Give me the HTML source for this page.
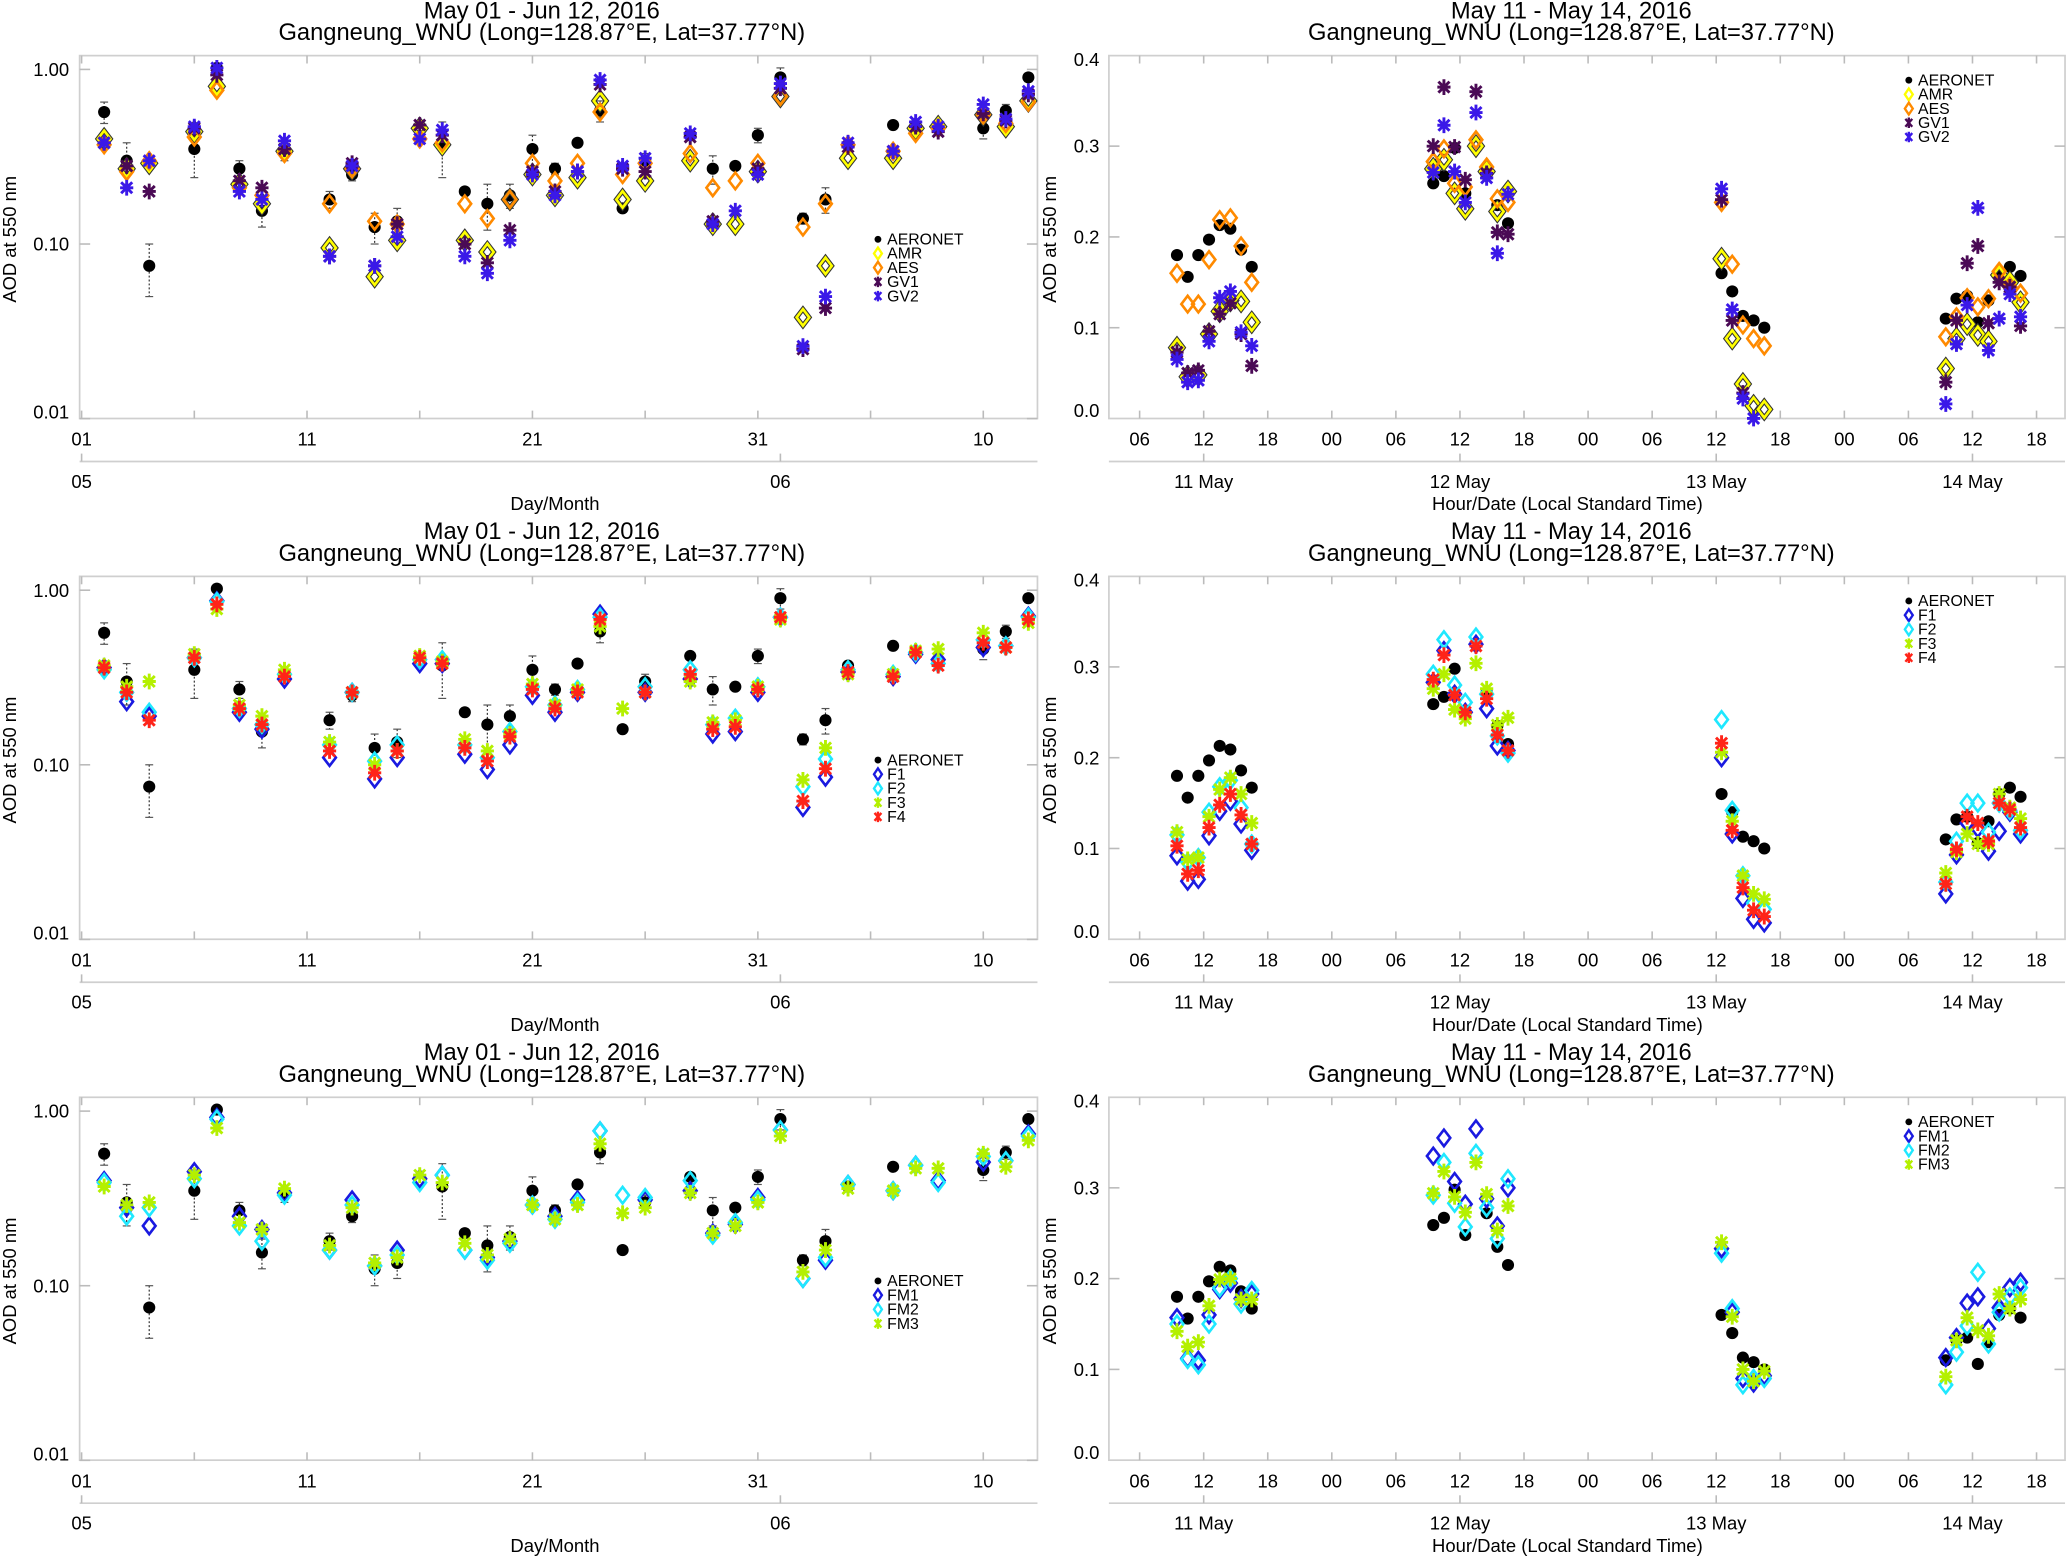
<!DOCTYPE html>
<html>
<head>
<meta charset="utf-8">
<style>
html,body{margin:0;padding:0;background:#fff;}
svg{display:block;}
text{font-family:"Liberation Sans Narrow","Liberation Sans",sans-serif;fill:#000;}
</style>
</head>
<body>
<svg id="fig" width="2067" height="1558" viewBox="0 0 1568 1185" preserveAspectRatio="none" xmlns="http://www.w3.org/2000/svg"></svg>
<script>
// ---------- data: daily panels (May 01 - Jun 12) ----------
const days = [2,3,4,6,7,8,9,10,12,13,14,15,16,17,18,19,20,21,22,23,24,25,26,28,29,30,31,32,33,34,35,37,38,39,41,42,43];
const aeroDaily = [0.57,0.30,0.075,0.35,1.02,0.27,0.155,0.33,0.18,0.25,0.125,0.135,null,0.37,0.20,0.17,0.19,0.35,0.27,0.38,0.58,0.16,0.30,0.42,0.27,0.28,0.42,0.90,0.14,0.18,0.37,0.48,null,null,0.46,0.58,0.90];
const aeroDailyErr = [0.08,0.08,0.025,0.11,0.05,0.03,0.03,0.03,0.02,0.02,0.025,0.025,0,0.13,0,0.05,0.03,0.07,0.02,0,0.08,0,0.03,0,0.05,0.01,0.04,0.12,0.01,0.03,0.01,0,0,0,0.06,0.05,0.05];
const amrDaily = [0.40,0.27,0.29,0.44,0.80,0.22,0.17,0.34,0.095,0.27,0.065,0.105,0.46,0.37,0.105,0.09,0.18,0.25,0.19,0.24,0.66,0.18,0.23,0.30,0.13,0.13,0.26,0.70,0.038,0.075,0.31,0.31,0.46,0.47,0.55,0.47,0.66];
const aesDaily = [0.37,0.26,0.30,0.41,0.76,0.21,0.19,0.33,0.17,0.27,0.135,0.13,0.40,0.38,0.17,0.14,0.18,0.29,0.23,0.29,0.57,0.25,0.29,0.33,0.21,0.23,0.29,0.70,0.125,0.17,0.37,0.34,0.43,0.46,0.55,0.49,0.65];
const gv1Daily = [0.38,0.28,0.20,0.46,0.93,0.23,0.21,0.35,0.085,0.29,0.075,0.13,0.48,0.42,0.10,0.078,0.12,0.26,0.20,0.26,0.82,0.27,0.26,0.41,0.135,null,0.27,0.78,0.025,0.043,0.36,0.34,0.47,0.44,0.56,0.51,0.72];
const gv2Daily = [0.38,0.21,0.30,0.47,1.02,0.20,0.18,0.39,0.085,0.28,0.075,0.11,0.40,0.45,0.085,0.068,0.105,0.25,0.19,0.26,0.87,0.28,0.31,0.43,0.13,0.155,0.25,0.83,0.026,0.05,0.38,0.34,0.50,0.47,0.63,0.52,0.75];
const f1Daily = [0.36,0.23,0.19,0.41,0.87,0.20,0.16,0.31,0.11,0.26,0.083,0.11,0.38,0.38,0.115,0.094,0.13,0.25,0.20,0.26,0.73,null,0.26,0.31,0.15,0.155,0.26,0.70,0.057,0.085,0.34,0.32,0.43,0.40,0.47,0.48,0.71];
const f2Daily = [0.35,0.26,0.20,0.41,0.86,0.21,0.17,0.33,0.13,0.26,0.105,0.13,0.40,0.40,0.13,0.11,0.155,0.28,0.22,0.27,0.70,null,0.28,0.35,0.17,0.185,0.28,0.70,0.075,0.108,0.35,0.33,0.44,0.38,0.52,0.48,0.70];
const f3Daily = [0.37,0.28,0.30,0.43,0.78,0.22,0.19,0.35,0.135,0.26,0.10,0.12,0.42,0.39,0.14,0.12,0.15,0.29,0.22,0.27,0.62,0.21,0.26,0.30,0.175,0.18,0.28,0.68,0.082,0.125,0.33,0.33,0.45,0.46,0.57,0.47,0.65];
const f4Daily = [0.36,0.26,0.18,0.41,0.83,0.21,0.17,0.32,0.12,0.26,0.09,0.12,0.41,0.38,0.125,0.105,0.145,0.27,0.21,0.26,0.68,null,0.26,0.33,0.16,0.165,0.27,0.70,0.062,0.095,0.34,0.32,0.44,0.37,0.50,0.47,0.68];
const fm1Daily = [0.40,0.28,0.22,0.45,0.92,0.25,0.21,0.34,0.16,0.31,0.13,0.16,0.41,0.43,0.16,0.145,0.18,0.29,0.25,0.31,0.77,null,0.31,0.35,0.20,0.225,0.32,0.78,0.11,0.14,0.38,0.35,0.49,0.40,0.51,0.52,0.74];
const fm2Daily = [0.39,0.25,0.28,0.41,0.90,0.22,0.18,0.33,0.16,0.29,0.13,0.15,0.39,0.43,0.16,0.14,0.175,0.29,0.24,0.30,0.77,0.33,0.32,0.40,0.195,0.23,0.31,0.78,0.11,0.145,0.38,0.35,0.49,0.39,0.55,0.52,0.72];
const fm3Daily = [0.37,0.29,0.30,0.43,0.80,0.23,0.21,0.36,0.17,0.28,0.135,0.145,0.43,0.39,0.175,0.15,0.185,0.29,0.24,0.29,0.65,0.26,0.28,0.34,0.20,0.22,0.30,0.72,0.12,0.16,0.36,0.35,0.47,0.47,0.57,0.48,0.68];
const dayTicks = [1,11,21,31,41];
const dayTickLabels = ["01","11","21","31","10"];
const dayMinorTicks = [6,16,26,36];
const logTicks = [1.0,0.1,0.01];
const logTickLabels = ["1.00","0.10","0.01"];

// ---------- data: hourly panels (May 11 - May 14), hours since 11 May 00:00 ----------
const hours = [9.5,10.5,11.5,12.5,13.5,14.5,15.5,16.5, 33.5,34.5,35.5,36.5,37.5,38.5,39.5,40.5, 60.5,61.5,62.5,63.5,64.5, 81.5,82.5,83.5,84.5,85.5,86.5,87.5,88.5];
const aeroHourly = [0.180,0.156,0.180,0.197,0.213,0.209,0.186,0.167, 0.259,0.267,0.298,0.248,null,0.272,0.235,0.215, 0.160,0.140,0.113,0.108,0.100, 0.110,0.132,0.135,0.106,0.130,0.160,0.167,0.157];
const amrHourly = [0.078,0.046,0.048,0.093,0.118,0.13,0.129,0.106, 0.275,0.285,0.248,0.231,0.300,0.272,0.228,0.250, 0.176,0.088,0.038,0.014,0.010, 0.055,0.088,0.104,0.092,0.085,0.158,0.150,0.128];
const aesHourly = [0.160,0.126,0.126,0.175,0.219,0.221,0.190,0.150, 0.283,0.297,0.259,0.255,0.307,0.277,0.242,0.238, 0.238,0.170,0.103,0.088,0.080, 0.090,0.112,0.133,0.123,0.132,0.162,0.145,0.138];
const gv1Hourly = [0.073,0.050,0.053,0.096,0.115,0.127,0.093,0.058, 0.300,0.365,0.299,0.263,0.360,0.270,0.205,0.203, 0.241,0.108,0.028,null,null, 0.040,0.108,0.171,0.190,0.105,0.150,0.145,0.102];
const gv2Hourly = [0.065,0.040,0.042,0.085,0.133,0.140,0.095,0.080, 0.271,0.323,0.272,0.238,0.337,0.265,0.182,0.247, 0.253,0.120,0.022,0.000,null, 0.016,0.082,0.125,0.232,0.075,0.110,0.137,0.112];
const f1Hourly = [0.092,0.064,0.066,0.114,0.141,0.152,0.127,0.098, 0.283,0.318,0.270,0.250,0.325,0.254,0.213,0.208, 0.200,0.116,0.045,0.022,0.018, 0.050,0.093,0.128,0.122,0.097,0.119,0.140,0.116];
const f2Hourly = [0.115,0.085,0.090,0.140,0.168,0.175,0.145,0.105, 0.292,0.330,0.280,0.261,0.333,0.270,0.224,0.205, 0.242,0.142,0.070,0.040,0.033, 0.063,0.108,0.150,0.150,0.118,0.150,0.142,0.120];
const f3Hourly = [0.118,0.088,0.090,0.135,0.165,0.178,0.160,0.128, 0.276,0.292,0.253,0.243,0.304,0.276,0.236,0.244, 0.206,0.130,0.070,0.050,0.044, 0.073,0.096,0.116,0.105,0.105,0.160,0.145,0.133];
const f4Hourly = [0.103,0.072,0.076,0.123,0.148,0.160,0.137,0.105, 0.286,0.313,0.269,0.250,0.323,0.265,0.225,0.208, 0.216,0.120,0.057,0.032,0.025, 0.061,0.099,0.135,0.128,0.108,0.150,0.143,0.123];
const fm1Hourly = [0.157,0.112,0.110,0.160,0.188,0.195,0.178,0.183, 0.335,0.355,0.307,0.282,0.365,0.288,0.258,0.300, 0.233,0.163,0.090,0.085,0.093, 0.113,0.135,0.173,0.180,0.145,0.168,0.190,0.196];
const fm2Hourly = [0.150,0.111,0.105,0.150,0.190,0.200,0.172,0.187, 0.292,0.328,0.283,0.257,0.338,0.278,0.244,0.310, 0.228,0.167,0.083,0.090,0.090, 0.083,0.119,0.148,0.207,0.128,0.163,0.180,0.190];
const fm3Hourly = [0.142,0.125,0.130,0.170,0.199,0.200,0.177,0.177, 0.294,0.318,0.290,0.273,0.328,0.293,0.253,0.280, 0.240,0.158,0.100,0.087,0.098, 0.092,0.132,0.157,0.143,0.137,0.183,0.167,0.177];
const hourTicks = [6,12,18,24,30,36,42,48,54,60,66,72,78,84,90];
const hourTickLabels = ["06","12","18","00","06","12","18","00","06","12","18","00","06","12","18"];
const linTicks = [0.0,0.1,0.2,0.3,0.4];
const linTickLabels = ["0.0","0.1","0.2","0.3","0.4"];
const dateCenters = [12,36,60,84];
const dateLabels = ["11 May","12 May","13 May","14 May"];

// ---------- layout ----------
const NS = "http://www.w3.org/2000/svg";
const svg = document.getElementById('fig');
const rowOff = [0, 396.1, 792.3];
const LF = {x0:60.4, x1:787, y0:42.3, y1:318.3};
const RF = {x0:841.2, x1:1566.5, y0:42.3, y1:318.3};
function lx(d){ return 61.9 + (d-1)*17.1; }
function ly(v,row){ return rowOff[row] + 185.6 - (Math.log10(v)+1)*132.8; }
function rx(h){ return 815.9 + h*8.1; }
function ry(v,row){ return rowOff[row] + 318.3 - v*690.5; }

function mk(tag, attrs, parent){
  const e = document.createElementNS(NS, tag);
  for (const k in attrs) e.setAttribute(k, attrs[k]);
  (parent||svg).appendChild(e);
  return e;
}
function txt(s, x, y, size, anchor, parent, extra){
  const t = mk('text', Object.assign({x:x, y:y, 'font-size':size, 'text-anchor':anchor||'middle'}, extra||{}), parent);
  t.textContent = s;
  return t;
}

// marker drawing
function dot(g,x,y){ const c = mk('circle',{cx:x,cy:y,r:4.6,fill:'#000'},g);   }
function diamond(g,x,y,color,outline){
  const d = `M${x},${y-6.3} L${x+4.8},${y} L${x},${y+6.3} L${x-4.8},${y} Z`;
  if(outline){ const o = mk('path',{d:d,fill:'none',stroke:'#333','stroke-width':3.6},g);   }
  const p = mk('path',{d:d,fill:'none',stroke:color,'stroke-width':2},g);
  
  
}
function star(g,x,y,color){
  const s=5, t=4.2;
  const d = `M${x},${y-s-1} L${x},${y+s+1} M${x-t},${y-t} L${x+t},${y+t} M${x-t},${y+t} L${x+t},${y-t} M${x-s},${y} L${x+s},${y}`;
  const p = mk('path',{d:d,stroke:color,'stroke-width':2.2,fill:'none'},g);
  
  
}
function drawMarker(type,g,x,y,color){
  if(type==='dot') dot(g,x,y);
  else if(type==='diamond') diamond(g,x,y,color,false);
  else if(type==='diamondO') diamond(g,x,y,color,true);
  else star(g,x,y,color);
}

const C = {amr:'#ffff00', aes:'#ff8a00', gv1:'#4a0a55', gv2:'#3a18e8', f1:'#1a1ae0', f2:'#1fe8ff', f3:'#b4f000', f4:'#ff2418'};

const panelsLeft = [
  [{name:'AERONET',type:'dot',color:'#000',vals:aeroDaily},{name:'AMR',type:'diamondO',color:C.amr,vals:amrDaily},{name:'AES',type:'diamond',color:C.aes,vals:aesDaily},{name:'GV1',type:'star',color:C.gv1,vals:gv1Daily},{name:'GV2',type:'star',color:C.gv2,vals:gv2Daily}],
  [{name:'AERONET',type:'dot',color:'#000',vals:aeroDaily},{name:'F1',type:'diamond',color:C.f1,vals:f1Daily},{name:'F2',type:'diamond',color:C.f2,vals:f2Daily},{name:'F3',type:'star',color:C.f3,vals:f3Daily},{name:'F4',type:'star',color:C.f4,vals:f4Daily}],
  [{name:'AERONET',type:'dot',color:'#000',vals:aeroDaily},{name:'FM1',type:'diamond',color:C.f1,vals:fm1Daily},{name:'FM2',type:'diamond',color:C.f2,vals:fm2Daily},{name:'FM3',type:'star',color:C.f3,vals:fm3Daily}]
];
const panelsRight = [
  [{name:'AERONET',type:'dot',color:'#000',vals:aeroHourly},{name:'AMR',type:'diamondO',color:C.amr,vals:amrHourly},{name:'AES',type:'diamond',color:C.aes,vals:aesHourly},{name:'GV1',type:'star',color:C.gv1,vals:gv1Hourly},{name:'GV2',type:'star',color:C.gv2,vals:gv2Hourly}],
  [{name:'AERONET',type:'dot',color:'#000',vals:aeroHourly},{name:'F1',type:'diamond',color:C.f1,vals:f1Hourly},{name:'F2',type:'diamond',color:C.f2,vals:f2Hourly},{name:'F3',type:'star',color:C.f3,vals:f3Hourly},{name:'F4',type:'star',color:C.f4,vals:f4Hourly}],
  [{name:'AERONET',type:'dot',color:'#000',vals:aeroHourly},{name:'FM1',type:'diamond',color:C.f1,vals:fm1Hourly},{name:'FM2',type:'diamond',color:C.f2,vals:fm2Hourly},{name:'FM3',type:'star',color:C.f3,vals:fm3Hourly}]
];

function line(g,x1,y1,x2,y2,stroke,w,name){
  const l = mk('line',{x1:x1,y1:y1,x2:x2,y2:y2,stroke:stroke,'stroke-width':w},g);
  
  
  return l;
}

function legend(g,series,x,y){
  const lg = mk('g',{},g);
  
  
  series.forEach((s,i)=>{
    const yy = y + i*10.8;
    const e = mk('g',{},lg);
    
    
    if(s.type==='dot'){ const c = mk('circle',{cx:x,cy:yy,r:2.6,fill:'#000'},e);   }
    else if(s.type==='star'){ const p = mk('path',{d:`M${x},${yy-4} L${x},${yy+4} M${x-2.6},${yy-3} L${x+2.6},${yy+3} M${x-2.6},${yy+3} L${x+2.6},${yy-3}`,stroke:s.color,'stroke-width':1.8},e);   }
    else { const p = mk('path',{d:`M${x},${yy-4.5} L${x+3},${yy} L${x},${yy+4.5} L${x-3},${yy} Z`,fill:'none',stroke:s.color,'stroke-width':1.8},e);   }
    const t = txt(s.name, x+7, yy+4, 12, 'start', e);
    
    
  });
}

function titles(g,cx,oy,l1){
  const a = txt(l1, cx, oy+14, 18, 'middle', g);  
  const b = txt('Gangneung_WNU (Long=128.87°E, Lat=37.77°N)', cx, oy+30.5, 18, 'middle', g);  
}
function ytitle(g,x,y){
  const t = txt('AOD at 550 nm', x, y, 14, 'middle', g, {transform:`rotate(-90 ${x} ${y})`, 'font-family':'Liberation Sans, sans-serif'});
  
  
}

for(let r=0;r<3;r++){
  const o = rowOff[r];
  // ---- left daily panel ----
  const g = mk('g',{});
  
  
  titles(g, 411, o, 'May 01 - Jun 12, 2016');
  const fr = mk('rect',{x:LF.x0,y:LF.y0+o,width:LF.x1-LF.x0,height:LF.y1-LF.y0,fill:'none',stroke:'#cfcfcf','stroke-width':1.3},g);
   
  logTicks.forEach((v,i)=>{
    const y = ly(v,r);
    line(g,LF.x0,y,LF.x0+8,y,'#bbb',1.2,'y-tick');
    line(g,LF.x1-8,y,LF.x1,y,'#bbb',1.2,'y-tick');
    const t = txt(logTickLabels[i], 52.5, y+5 + (i===0?0:(i===2?-5:0)), 14, 'end', g);
     
  });
  dayTicks.concat(dayMinorTicks).forEach(d=>{
    const x = lx(d);
    line(g,x,LF.y1+o,x,LF.y1+o-6,'#bbb',1.2,'x-tick');
    line(g,x,LF.y0+o,x,LF.y0+o+6,'#bbb',1.2,'x-tick');
  });
  dayTicks.forEach((d,i)=>{
    const t = txt(dayTickLabels[i], lx(d), o+339, 14, 'middle', g);
     
  });
  line(g,LF.x0,o+351,LF.x1,o+351,'#cfcfcf',1.3,'month-axis-line');
  [[1,'05'],[32,'06']].forEach(m=>{
    line(g,lx(m[0]),o+351,lx(m[0]),o+345,'#bbb',1.2,'month-tick');
    const t = txt(m[1], lx(m[0]), o+371, 14, 'middle', g);
     
  });
  const xt = txt('Day/Month', 421, o+388, 14, 'middle', g);
   
  ytitle(g, 12, o+182);
  // error bars
  const eg = mk('g',{},g);
   
  days.forEach((d,i)=>{
    const v = aeroDaily[i], e = aeroDailyErr[i];
    if(v==null || !e) return;
    const x = lx(d), y1 = ly(v+e,r), y2 = ly(Math.max(v-e,0.005),r);
    const l = line(eg,x,y1,x,y2,'#333',0.9,'error-bar'); l.setAttribute('stroke-dasharray','1.5 1.5');
    line(eg,x-3,y1,x+3,y1,'#555',0.9,'error-cap');
    line(eg,x-3,y2,x+3,y2,'#555',0.9,'error-cap');
  });
  panelsLeft[r].forEach(s=>{
    const sg = mk('g',{},g);
    
    
    days.forEach((d,i)=>{
      const v = s.vals[i];
      if(v==null || v<=0) return;
      drawMarker(s.type, sg, lx(d), ly(v,r), s.color);
    });
  });
  legend(g, panelsLeft[r], 666, o+182);

  // ---- right hourly panel ----
  const h = mk('g',{});
  
  
  titles(h, 1192, o, 'May 11 - May 14, 2016');
  const fr2 = mk('rect',{x:RF.x0,y:RF.y0+o,width:RF.x1-RF.x0,height:RF.y1-RF.y0,fill:'none',stroke:'#cfcfcf','stroke-width':1.3},h);
   
  linTicks.forEach((v,i)=>{
    const y = ry(v,r);
    if(i>0 && i<4){ line(h,RF.x0,y,RF.x0+8,y,'#bbb',1.2,'y-tick'); line(h,RF.x1-8,y,RF.x1,y,'#bbb',1.2,'y-tick'); }
    const off = i===0 ? -1 : (i===4 ? 8 : 5);
    const t = txt(linTickLabels[i], 834, y+off, 14, 'end', h);
     
  });
  hourTicks.forEach((hh,i)=>{
    const x = rx(hh);
    line(h,x,RF.y1+o,x,RF.y1+o-6,'#bbb',1.2,'x-tick');
    line(h,x,RF.y0+o,x,RF.y0+o+6,'#bbb',1.2,'x-tick');
    const t = txt(hourTickLabels[i], x, o+339, 14, 'middle', h);
     
  });
  line(h,RF.x0,o+351,RF.x1,o+351,'#cfcfcf',1.3,'date-axis-line');
  dateCenters.forEach((hh,i)=>{
    line(h,rx(hh),o+351,rx(hh),o+345,'#bbb',1.2,'date-tick');
    const t = txt(dateLabels[i], rx(hh), o+371, 14, 'middle', h);
     
  });
  const xt2 = txt('Hour/Date (Local Standard Time)', 1189, o+388, 14, 'middle', h);
   
  ytitle(h, 801, o+182);
  panelsRight[r].forEach(s=>{
    const sg = mk('g',{},h);
    
    
    hours.forEach((hh,i)=>{
      const v = s.vals[i];
      if(v==null) return;
      drawMarker(s.type, sg, rx(hh), ry(v,r), s.color);
    });
  });
  legend(h, panelsRight[r], 1448, o+61);
}
</script>
</body>
</html>
